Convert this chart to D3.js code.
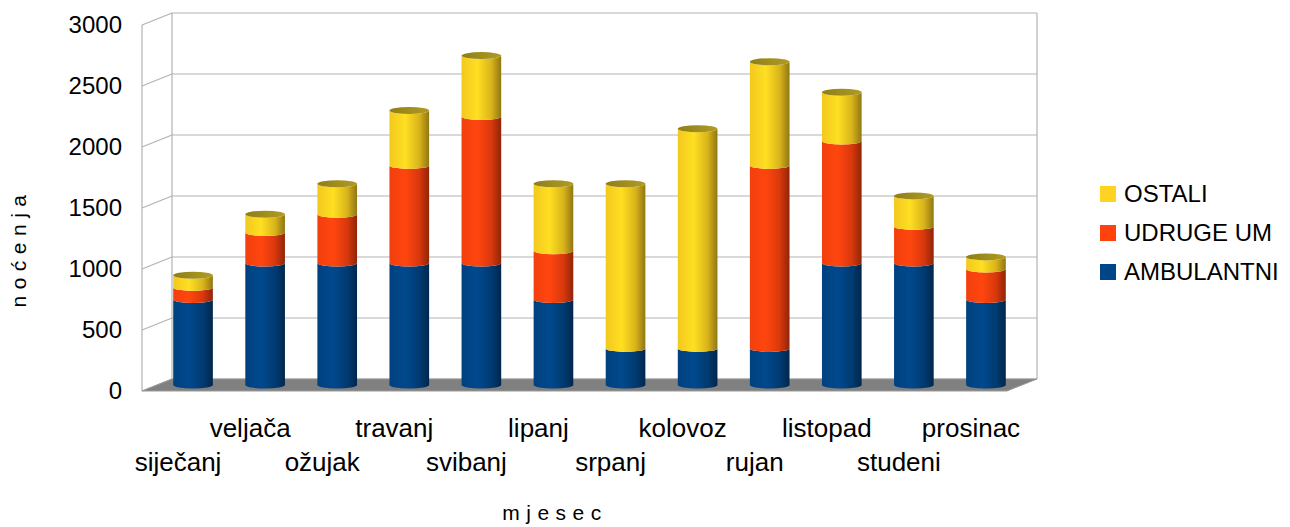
<!DOCTYPE html>
<html>
<head>
<meta charset="utf-8">
<script src="https://cdn.jsdelivr.net/npm/d3@7"></script>
<style>
  body { margin: 0; background: #fff; }
  text { font-family: "Liberation Sans", Arial, sans-serif; }
</style>
</head>
<body>
<div id="chart"></div>
<script>
// chart data
const months = ["siječanj", "veljača", "ožujak", "travanj", "svibanj", "lipanj",
                "srpanj", "kolovoz", "rujan", "listopad", "studeni", "prosinac"];
const ambulantni = [700, 1000, 1000, 1000, 1000, 700, 300, 300, 300, 1000, 1000, 700];
const udruge     = [100, 250, 400, 800, 1200, 400, 0, 0, 1500, 1000, 300, 250];
const ostali     = [100, 150, 250, 450, 500, 550, 1350, 1800, 850, 400, 250, 100];
const seriesNames = ["AMBULANTNI", "UDRUGE UM", "OSTALI"];
const yTicks = [0, 500, 1000, 1500, 2000, 2500, 3000];

const W = 1290, H = 527;
const depth = {dx: 30, dy: -12};

const svg = d3.select("#chart").append("svg")
    .attr("width", W)
    .attr("height", H);

// scales on the front plane
const x = d3.scaleBand()
    .domain(months)
    .range([142, 1007]);

const y = d3.scaleLinear()
    .domain([0, 3000])
    .range([391, 25]);

const colors = d3.scaleOrdinal()
    .domain(seriesNames)
    .range(["#004586", "#ff420e", "#ffd320"]);

// gradients for the cylinder sides
const defs = svg.append("defs");
seriesNames.forEach((name, i) => {
    const base = d3.rgb(colors(name));
    const g = defs.append("linearGradient")
        .attr("id", "grad" + i)
        .attr("x1", "0%").attr("x2", "100%")
        .attr("y1", "0%").attr("y2", "0%");
    g.append("stop").attr("offset", "0%").attr("stop-color", base.darker(0.15));
    g.append("stop").attr("offset", "40%").attr("stop-color", base.brighter(0.15));
    g.append("stop").attr("offset", "75%").attr("stop-color", base.darker(0.45));
    g.append("stop").attr("offset", "100%").attr("stop-color", base.darker(1.6));
});
const topGrad = defs.append("linearGradient")
    .attr("id", "gradTop")
    .attr("x1", "0%").attr("x2", "100%");
topGrad.append("stop").attr("offset", "0%").attr("stop-color", "#8f7e18");
topGrad.append("stop").attr("offset", "100%").attr("stop-color", "#b09c22");

const x0 = x.range()[0], x1 = x.range()[1];
const gridColor = "#b3b3b3";

// back wall grid lines
svg.append("g").selectAll("line")
    .data(yTicks)
    .enter().append("line")
    .attr("x1", x0 + depth.dx)
    .attr("x2", x1 + depth.dx)
    .attr("y1", d => y(d) + depth.dy)
    .attr("y2", d => y(d) + depth.dy)
    .attr("stroke", gridColor)
    .attr("stroke-width", 1.2);

// side wall lines
svg.append("g").selectAll("line")
    .data(yTicks)
    .enter().append("line")
    .attr("x1", x0)
    .attr("x2", x0 + depth.dx)
    .attr("y1", d => y(d))
    .attr("y2", d => y(d) + depth.dy)
    .attr("stroke", gridColor)
    .attr("stroke-width", 1.2);

// wall edges
[[x0, 0, x0, 3000, 0], [x0 + depth.dx, 0, x0 + depth.dx, 3000, 1], [x1 + depth.dx, 0, x1 + depth.dx, 3000, 1]]
    .forEach(e => {
        svg.append("line")
            .attr("x1", e[0]).attr("x2", e[2])
            .attr("y1", y(e[1]) + (e[4] ? depth.dy : 0))
            .attr("y2", y(e[3]) + (e[4] ? depth.dy : 0))
            .attr("stroke", gridColor)
            .attr("stroke-width", 1.2);
    });

// floor
svg.append("path")
    .attr("d", `M${x0},${y(0)} L${x1},${y(0)} L${x1 + depth.dx},${y(0) + depth.dy} L${x0 + depth.dx},${y(0) + depth.dy} Z`)
    .attr("fill", "#808080")
    .attr("stroke", "#9a9a9a")
    .attr("stroke-width", 1);

// y tick labels
svg.append("g").selectAll("text")
    .data(yTicks)
    .enter().append("text")
    .attr("x", 122)
    .attr("y", d => y(d))
    .attr("dy", "0.35em")
    .attr("text-anchor", "end")
    .style("font-size", "24px")
    .text(d => d);

// x tick labels, staggered in two rows
svg.append("g").selectAll("text")
    .data(months)
    .enter().append("text")
    .attr("x", d => x(d) + x.bandwidth() / 2)
    .attr("y", (d, i) => i % 2 === 0 ? 471 : 437)
    .attr("text-anchor", "middle")
    .style("font-size", "26px")
    .text(d => d);

// cylinders
const rx = x.bandwidth() * 0.275, ry = 3.5;
const stack = months.map((m, i) => [ambulantni[i], udruge[i], ostali[i]]);

stack.forEach((vals, i) => {
    const cx = x(months[i]) + x.bandwidth() / 2 + depth.dx / 2;
    const off = depth.dy / 2;
    let base = 0;
    vals.forEach((v, s) => {
        if (v <= 0) return;
        const yb = y(base) + off, yt = y(base + v) + off;
        svg.append("path")
            .attr("d", `M${cx - rx},${yt} L${cx - rx},${yb} A${rx},${ry} 0 0 0 ${cx + rx},${yb} L${cx + rx},${yt} A${rx},${ry} 0 0 1 ${cx - rx},${yt} Z`)
            .attr("fill", `url(#grad${s})`);
        base += v;
    });
    // top cap
    const top = y(base) + off;
    const last = vals[2] > 0 ? 2 : (vals[1] > 0 ? 1 : 0);
    svg.append("ellipse")
        .attr("cx", cx)
        .attr("cy", top)
        .attr("rx", rx)
        .attr("ry", ry)
        .attr("fill", last === 2 ? "url(#gradTop)" : d3.rgb(colors(seriesNames[last])).darker(0.8));
});

// legend
const legend = svg.append("g");
seriesNames.slice().reverse().forEach((name, i) => {
    legend.append("rect")
        .attr("x", 1100)
        .attr("y", 186 + i * 39)
        .attr("width", 16)
        .attr("height", 16)
        .attr("fill", colors(name));
    legend.append("text")
        .attr("x", 1124)
        .attr("y", 194 + i * 39)
        .attr("dy", "0.35em")
        .style("font-size", "24px")
        .text(name);
});

// axis titles
svg.append("text")
    .attr("x", 555)
    .attr("y", 520)
    .attr("text-anchor", "middle")
    .style("font-size", "21px")
    .style("letter-spacing", "6.5px")
    .text("mjesec");

svg.append("text")
    .attr("transform", "rotate(-90)")
    .attr("x", -248)
    .attr("y", 26)
    .attr("text-anchor", "middle")
    .style("font-size", "21px")
    .style("letter-spacing", "6.5px")
    .text("noćenja");
</script>
</body>
</html>
